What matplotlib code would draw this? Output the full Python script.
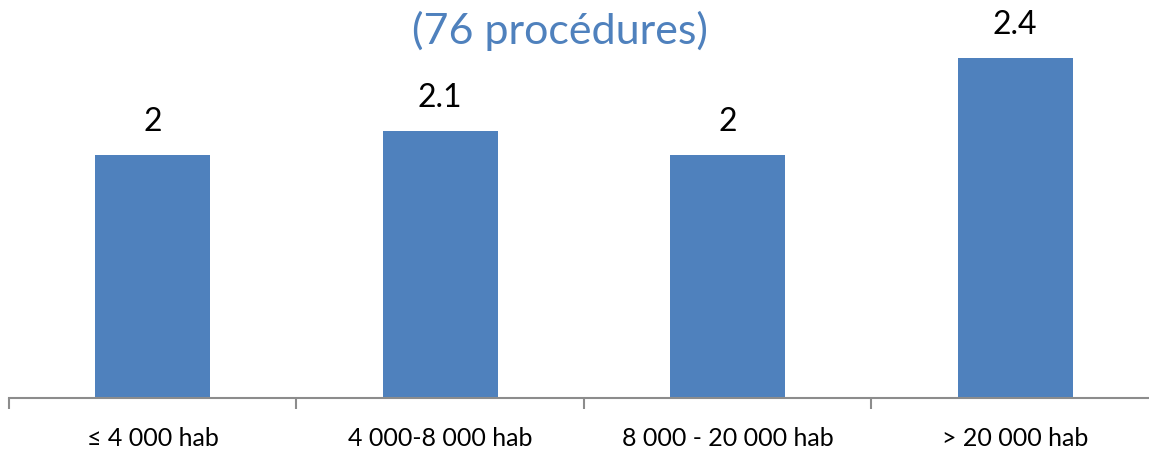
import matplotlib.pyplot as plt

# Average number of procedures per commune size class
categories = ["≤ 4 000 hab", "4 000-8 000 hab", "8 000 - 20 000 hab", "> 20 000 hab"]
values = [2, 2.1, 2, 2.4]
value_labels = ["2", "2.1", "2", "2.4"]

bar_color = "#4F81BD"
axis_color = "#8C8C8C"

plt.rcParams["font.family"] = ["Lato", "DejaVu Sans"]

fig = plt.figure(figsize=(11.49, 4.53), dpi=100)
# axes stretches slightly past the right edge so the last category is clipped
ax = fig.add_axes([9 / 1149, 55 / 453, 1150 / 1149, 389 / 453])

x = range(len(categories))
bars = ax.bar(x, values, width=0.4, color=bar_color, bottom=0)
ax.set_xlim(-0.5, len(categories) - 0.5)
ax.set_ylim(1, 2.6)

for bar, lab in zip(bars, value_labels):
    ax.annotate(lab, xy=(bar.get_x() + bar.get_width() / 2, bar.get_height()),
                xytext=(0, 13), textcoords="offset points",
                ha="center", va="bottom", fontsize=23, color="black")

# category separators below the baseline
for s in ax.spines.values():
    s.set_visible(False)
ax.spines["bottom"].set_visible(True)
ax.spines["bottom"].set_color(axis_color)
ax.spines["bottom"].set_linewidth(1.5)
ax.set_yticks([])
ax.set_xticks([i - 0.5 for i in range(len(categories) + 1)])
ax.set_xticks(list(x), minor=True)
ax.set_xticklabels([])
ax.set_xticklabels(categories, minor=True, fontsize=18)
ax.tick_params(axis="x", which="major", direction="out", length=8, width=1.5, color=axis_color)
ax.tick_params(axis="x", which="minor", length=0, pad=21)

fig.text(560 / 1149, 1 - 31 / 453, "(76 procédures)", ha="center", va="center",
         fontsize=31, color="#4F81BD")

fig.savefig("out.png", dpi=100)
